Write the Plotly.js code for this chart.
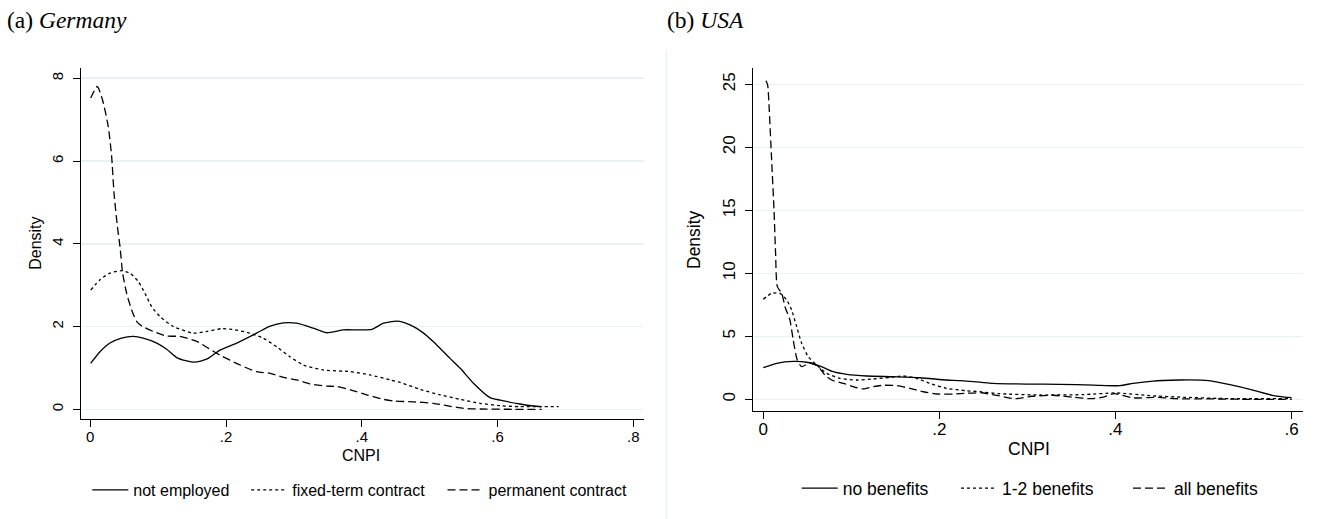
<!DOCTYPE html>
<html>
<head>
<meta charset="utf-8">
<script src="https://cdn.plot.ly/plotly-3.0.1.min.js"></script>
<style>
html,body{margin:0;padding:0;background:#fff;}
#chart{width:1322px;height:519px;}
</style>
</head>
<body>
<div id="chart"></div>
<script>
// ---------- Germany (a) ----------
const deNotEmpX = [0.0006,0.0143,0.029,0.046,0.0634,0.078,0.098,0.1126,0.1273,0.142,0.154,0.1715,0.191,0.2157,0.245,0.265,0.2845,0.304,0.3287,0.348,0.373,0.3926,0.4147,0.432,0.4516,0.471,0.491,0.5055,0.530,0.545,0.5645,0.589,0.604,0.633,0.653,0.665];
const deNotEmpY = [1.11,1.39,1.60,1.72,1.76,1.72,1.60,1.45,1.25,1.17,1.14,1.21,1.43,1.60,1.84,2.01,2.09,2.08,1.96,1.85,1.92,1.92,1.93,2.08,2.13,2.04,1.84,1.63,1.23,0.99,0.63,0.28,0.22,0.128,0.08,0.063];

const deFixedX = [0.0006,0.0143,0.029,0.046,0.0585,0.0707,0.0806,0.0905,0.1027,0.1224,0.152,0.1715,0.194,0.213,0.235,0.2545,0.2747,0.294,0.314,0.3434,0.383,0.412,0.4417,0.4565,0.486,0.5155,0.545,0.574,0.604,0.633,0.663,0.69];
const deFixedY = [2.88,3.13,3.29,3.35,3.29,3.09,2.80,2.48,2.24,2.00,1.84,1.88,1.95,1.92,1.84,1.72,1.51,1.27,1.07,0.95,0.91,0.83,0.71,0.65,0.48,0.35,0.24,0.145,0.087,0.063,0.063,0.063];

const dePermX = [0.0006,0.0103,0.018,0.0265,0.0315,0.035,0.040,0.0438,0.0477,0.0536,0.061,0.0684,0.077,0.093,0.1126,0.132,0.157,0.1715,0.191,0.2206,0.245,0.265,0.2845,0.304,0.324,0.348,0.363,0.383,0.407,0.432,0.4466,0.476,0.5055,0.525,0.55,0.574,0.623,0.665];
const dePermY = [7.52,7.80,7.48,6.83,6.11,5.22,4.41,3.93,3.29,2.80,2.40,2.12,2.00,1.88,1.77,1.76,1.64,1.50,1.31,1.07,0.91,0.87,0.77,0.71,0.61,0.56,0.55,0.47,0.35,0.24,0.20,0.18,0.145,0.087,0.024,0.007,0.0,0.0];

// ---------- USA (b) ----------
const usNoBenX = [0,0.0152,0.034,0.0493,0.0644,0.0795,0.0948,0.1175,0.148,0.178,0.208,0.2235,0.246,0.261,0.2993,0.337,0.375,0.405,0.42,0.443,0.4735,0.482,0.506,0.53,0.554,0.578,0.6];
const usNoBenY = [2.51,2.86,3.01,2.94,2.64,2.19,1.98,1.85,1.79,1.71,1.53,1.48,1.36,1.27,1.21,1.19,1.13,1.08,1.27,1.45,1.53,1.54,1.48,1.16,0.77,0.32,0.13];

const usSomeBenX = [0,0.0095,0.019,0.0266,0.0322,0.038,0.0436,0.0511,0.0607,0.072,0.087,0.106,0.125,0.144,0.159,0.174,0.189,0.208,0.231,0.246,0.267,0.3147,0.3626,0.401,0.439,0.4775,0.53,0.6];
const usSomeBenY = [7.94,8.41,8.41,7.88,7.09,5.76,4.44,3.38,2.72,2.06,1.67,1.53,1.61,1.74,1.85,1.67,1.27,0.87,0.68,0.60,0.45,0.34,0.37,0.50,0.29,0.16,0.05,0.05];

const usAllBenX = [0.0031,0.005,0.0068,0.0095,0.0122,0.014,0.016,0.021,0.0247,0.0303,0.034,0.0386,0.0436,0.053,0.0625,0.070,0.0777,0.091,0.1023,0.1136,0.125,0.136,0.1516,0.1667,0.182,0.197,0.216,0.231,0.2476,0.2668,0.286,0.305,0.329,0.353,0.372,0.3865,0.3985,0.42,0.444,0.468,0.506,0.554,0.6];
const usAllBenY = [25.29,24.94,22.96,18.99,15.02,11.59,8.94,8.41,7.35,6.29,4.71,3.12,2.59,2.90,2.59,1.93,1.53,1.27,1.00,0.82,1.00,1.11,1.08,0.87,0.60,0.42,0.42,0.48,0.52,0.29,0.05,0.24,0.32,0.16,0.05,0.18,0.45,0.11,0.16,0.05,0.03,0.0,0.0];

const deLabels = ["not employed","fixed-term contract","permanent contract"];
const usLabels = ["no benefits","1-2 benefits","all benefits"];
const deTickVals = [0,0.2,0.4,0.6,0.8];
const deTickText = ["0",".2",".4",".6",".8"];
const usTickVals = [0,0.2,0.4,0.6];
const usTickText = ["0",".2",".4",".6"];
const deYTicks = [0,2,4,6,8];
const usYTicks = [0,5,10,15,20,25];
const xTitle = "CNPI", yTitle = "Density";
const panelA = "(a) <i>Germany</i>", panelB = "(b) <i>USA</i>";

const SOLID = 'solid', DOT = '3px,3px', DASH = '8px,4px';
const lw = 1.3;
const col = '#000000';
const W = 1322, H = 519;
const sans = 'Liberation Sans, Arial, sans-serif';
const f = (s) => ({family:sans, size:s, color:'#000'});

// legend text start positions (px) and vertical centres
const deLegTextX = [133.3, 292.2, 488.5], deLegY = 490;
const usLegTextX = [842.7, 1002, 1174], usLegY = 488.3;
const IW = 36;

const dashes = [SOLID, DOT, DASH];
const traces = [deNotEmpX, deFixedX, dePermX].map((xs, i) => ({
  type:'scatter', mode:'lines', x: xs, y: [deNotEmpY, deFixedY, dePermY][i], name: deLabels[i],
  xaxis:'x', yaxis:'y', legend: i === 0 ? 'legend' : 'legend' + (i + 1),
  line:{color:col, width:lw, shape:'spline', smoothing:0.6, dash:dashes[i]}
}));
const traces2 = [usNoBenX, usSomeBenX, usAllBenX].map((xs, i) => ({
  type:'scatter', mode:'lines', x: xs, y: [usNoBenY, usSomeBenY, usAllBenY][i], name: usLabels[i],
  xaxis:'x2', yaxis:'y2', legend: 'legend' + (i + 4),
  line:{color:col, width:lw, shape:'spline', smoothing:0.6, dash:dashes[i]}
}));

const gridc = '#eaf1f3';
const axisCommon = {
  showline:true, linecolor:'#000', linewidth:1, ticks:'outside', ticklen:7, tickwidth:1, tickcolor:'#000',
  zeroline:false, mirror:false
};

const layout = {
  width:W, height:H, paper_bgcolor:'#fff', plot_bgcolor:'#fff',
  margin:{l:0,r:0,t:0,b:0},
  showlegend:true,
  xaxis: Object.assign({}, axisCommon, {
    domain:[80.7/W, 643.5/W], range:[-0.0141, 0.815], tickvals:deTickVals, ticktext:deTickText,
    showgrid:false, anchor:'y', tickfont:f(15), ticklabelstandoff:-3
  }),
  yaxis: Object.assign({}, axisCommon, {
    domain:[1-419.3/H, 1-68.3/H], range:[-0.242, 8.24], tickvals:deYTicks, tickangle:-90,
    showgrid:true, gridcolor:gridc, gridwidth:1.5, anchor:'x', tickfont:f(15), ticklabelstandoff:4
  }),
  xaxis2: Object.assign({}, axisCommon, {
    domain:[752.7/W, 1303/W], range:[-0.012, 0.613], tickvals:usTickVals, ticktext:usTickText,
    showgrid:false, anchor:'y2', tickfont:f(17), ticklabelstandoff:-4
  }),
  yaxis2: Object.assign({}, axisCommon, {
    domain:[1-410.7/H, 1-68.3/H], range:[-0.905, 26.27], tickvals:usYTicks, tickangle:-90,
    showgrid:true, gridcolor:gridc, gridwidth:1.5, anchor:'x2', tickfont:f(17), ticklabelstandoff:3
  }),
  annotations: [
    {xref:'paper', yref:'paper', x:5/W, y:1-20/H, xanchor:'left', yanchor:'middle', showarrow:false,
     text:panelA, font:{family:'Liberation Serif, Times New Roman, serif', size:23.5, color:'#000'}},
    {xref:'paper', yref:'paper', x:665/W, y:1-20/H, xanchor:'left', yanchor:'middle', showarrow:false,
     text:panelB, font:{family:'Liberation Serif, Times New Roman, serif', size:23.5, color:'#000'}},
    {xref:'paper', yref:'paper', x:361/W, y:1-455/H, xanchor:'center', yanchor:'middle', showarrow:false,
     text:xTitle, font:f(16)},
    {xref:'paper', yref:'paper', x:1029/W, y:1-449/H, xanchor:'center', yanchor:'middle', showarrow:false,
     text:xTitle, font:f(17.5)},
    {xref:'paper', yref:'paper', x:36/W, y:1-243.8/H, xanchor:'center', yanchor:'middle', showarrow:false,
     text:yTitle, textangle:-90, font:f(16)},
    {xref:'paper', yref:'paper', x:693.5/W, y:1-239.5/H, xanchor:'center', yanchor:'middle', showarrow:false,
     text:yTitle, textangle:-90, font:f(17.5)}
  ],
  shapes: [
    {type:'line', xref:'paper', yref:'paper', x0:666.5/W, x1:666.5/W, y0:0, y1:1-50/H, line:{color:'#eaf1f3', width:1.5}}
  ]
};

// one legend per entry so each entry sits where the reference puts it
deLegTextX.forEach((tx, i) => {
  const key = i === 0 ? 'legend' : 'legend' + (i + 1);
  layout[key] = {orientation:'h', x:(tx - IW - 10)/W, xanchor:'left', y:1-deLegY/H, yanchor:'middle',
    font:f(16), itemwidth:IW, bgcolor:'rgba(0,0,0,0)', borderwidth:0};
});
usLegTextX.forEach((tx, i) => {
  layout['legend' + (i + 4)] = {orientation:'h', x:(tx - IW - 10)/W, xanchor:'left', y:1-usLegY/H, yanchor:'middle',
    font:f(17.5), itemwidth:IW, bgcolor:'rgba(0,0,0,0)', borderwidth:0};
});

Plotly.newPlot('chart', traces.concat(traces2), layout, {displayModeBar:false, staticPlot:true});
</script>
</body>
</html>
